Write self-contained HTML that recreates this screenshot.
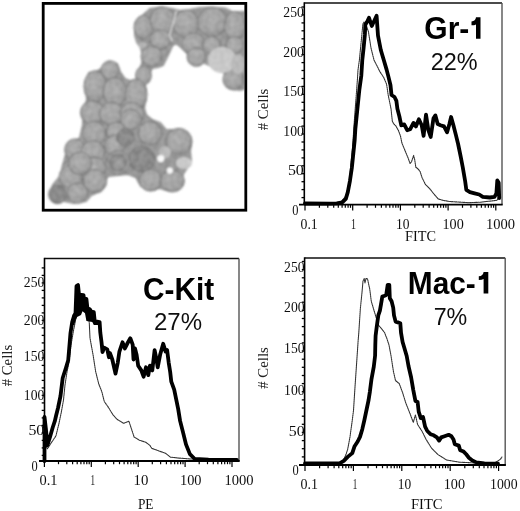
<!DOCTYPE html>
<html><head><meta charset="utf-8"><style>html,body{margin:0;padding:0;background:#fff;width:520px;height:511px;overflow:hidden}svg{display:block}</style></head><body>
<svg width="520" height="511" viewBox="0 0 520 511">
<rect width="520" height="511" fill="#fff"/>
<defs><filter id="gb" x="0" y="0" width="100%" height="100%" filterUnits="userSpaceOnUse"><feGaussianBlur stdDeviation="0.35"/></filter></defs>
<g filter="url(#gb)">
<rect width="520" height="511" fill="#fff"/>
<defs><radialGradient id="cg" cx="0.45" cy="0.42" r="0.62"><stop offset="0" stop-color="#acacac"/><stop offset="0.7" stop-color="#9d9d9d"/><stop offset="1" stop-color="#808080"/></radialGradient><radialGradient id="cd" cx="0.5" cy="0.5" r="0.6"><stop offset="0" stop-color="#8a8a8a"/><stop offset="1" stop-color="#7a7a7a"/></radialGradient><radialGradient id="cr" cx="0.5" cy="0.5" r="0.55"><stop offset="0" stop-color="#a8a8a8"/><stop offset="0.35" stop-color="#8d8d8d"/><stop offset="0.6" stop-color="#7e7e7e"/><stop offset="0.85" stop-color="#9a9a9a"/><stop offset="1" stop-color="#8a8a8a"/></radialGradient><filter id="bl" x="-10%" y="-10%" width="120%" height="120%"><feGaussianBlur in="SourceGraphic" stdDeviation="0.8" result="b"/><feTurbulence type="fractalNoise" baseFrequency="0.2" numOctaves="1" seed="3" result="n"/><feColorMatrix in="n" type="matrix" values="1.4 0 0 0 -0.1  1.4 0 0 0 -0.1  1.4 0 0 0 -0.1  0 0 0 0 0.09" result="na"/><feComposite in="na" in2="b" operator="in" result="nm"/><feMerge><feMergeNode in="b"/><feMergeNode in="nm"/></feMerge></filter><clipPath id="pc"><rect x="44" y="4.6" width="200.4" height="204.4"/></clipPath></defs>
<g clip-path="url(#pc)"><g filter="url(#bl)">
<path d="M110,62 L117,64 L120,72 L125,79 L130,81 L138,80 L145,84 L146,95 L144,108 L146,115 L152,120 L160,123 L166,130 L180,130 L188,134 L191,142 L190,152 L191,161 L187,168 L183,174 L182,184 L176,190 L166,190 L160,188 L150,189 L141,186 L136,177 L128,174 L118,175 L108,176 L104,183 L101,191 L91,195 L86,201 L74,203 L64,201 L53,199 L50,193 L53,185 L61,175 L63,165 L67,151 L72,143 L80,138 L83,125 L84,110 L87,100 L86,82 L89,73 L96,72 L102,68Z" fill="#939393" stroke="#939393" stroke-width="2" stroke-linejoin="round"/>
<path d="M136,27 L141,17 L150,9 L160,7.5 L172,9 L180,11 L190,10 L200,8 L212,7.5 L225,8.5 L232,12 L246,12 L246,88 L240,90 L233,89 L228,83 L225,74 L218,67 L212,66 L205,63 L196,60 L188,54 L182,48 L176,43 L172,46 L168,55 L163,65 L158,67 L152,68 L149,74 L148,80 L145,84 L140,83 L138,77 L139,70 L142,64 L143,56 L141,48 L137,42 L135,35Z" fill="#939393" stroke="#939393" stroke-width="2" stroke-linejoin="round"/>
<ellipse cx="143.3" cy="27.4" rx="9.3" ry="11.8" fill="url(#cg)" stroke="#727272" stroke-width="1.0"/>
<ellipse cx="162.5" cy="20.5" rx="12.3" ry="13.8" fill="url(#cg)" stroke="#727272" stroke-width="1.0"/>
<ellipse cx="160.4" cy="39.7" rx="10.3" ry="9.8" fill="url(#cg)" stroke="#727272" stroke-width="1.0"/>
<ellipse cx="151.5" cy="56.2" rx="10.4" ry="10.4" fill="url(#cg)" stroke="#727272" stroke-width="1.0"/>
<ellipse cx="143.5" cy="75.5" rx="7.8" ry="9.3" fill="url(#cg)" stroke="#727272" stroke-width="1.0"/>
<ellipse cx="186" cy="24" rx="12.8" ry="13.8" fill="url(#cg)" stroke="#727272" stroke-width="1.0"/>
<ellipse cx="212.2" cy="21.9" rx="14.5" ry="14.8" fill="url(#cg)" stroke="#727272" stroke-width="1.0"/>
<ellipse cx="234.8" cy="26" rx="10.4" ry="14.5" fill="url(#cg)" stroke="#727272" stroke-width="1.0"/>
<ellipse cx="193.7" cy="43.8" rx="11.8" ry="10.8" fill="url(#cg)" stroke="#727272" stroke-width="1.0"/>
<ellipse cx="211.5" cy="45.2" rx="8.8" ry="8.8" fill="url(#cg)" stroke="#727272" stroke-width="1.0"/>
<ellipse cx="196.4" cy="57" rx="9.3" ry="9.3" fill="url(#cg)" stroke="#727272" stroke-width="1.0"/>
<ellipse cx="234.8" cy="45.2" rx="8.8" ry="8.8" fill="url(#cg)" stroke="#727272" stroke-width="1.0"/>
<ellipse cx="233.4" cy="79.5" rx="10.4" ry="10.4" fill="url(#cg)" stroke="#727272" stroke-width="1.0"/>
<ellipse cx="110.1" cy="70.1" rx="9.0" ry="9.3" fill="url(#cg)" stroke="#727272" stroke-width="1.0"/>
<ellipse cx="95.1" cy="86.5" rx="11.100000000000001" ry="15.8" fill="url(#cg)" stroke="#727272" stroke-width="1.0"/>
<ellipse cx="114.9" cy="92" rx="11.8" ry="14.5" fill="url(#cg)" stroke="#727272" stroke-width="1.0"/>
<ellipse cx="136.2" cy="94.7" rx="10.8" ry="15.8" fill="url(#cg)" stroke="#727272" stroke-width="1.0"/>
<ellipse cx="92.3" cy="112.5" rx="11.8" ry="11.8" fill="url(#cg)" stroke="#727272" stroke-width="1.0"/>
<ellipse cx="111.5" cy="113.9" rx="11.8" ry="11.8" fill="url(#cg)" stroke="#727272" stroke-width="1.0"/>
<ellipse cx="132" cy="113.9" rx="11.8" ry="11.8" fill="url(#cg)" stroke="#727272" stroke-width="1.0"/>
<ellipse cx="131" cy="119.6" rx="10.4" ry="10.4" fill="url(#cg)" stroke="#727272" stroke-width="1.0"/>
<ellipse cx="94.2" cy="133.3" rx="11.8" ry="11.8" fill="url(#cg)" stroke="#727272" stroke-width="1.0"/>
<ellipse cx="116.2" cy="131.9" rx="9.8" ry="9.8" fill="url(#cg)" stroke="#727272" stroke-width="1.0"/>
<ellipse cx="75.1" cy="149.7" rx="10.4" ry="10.8" fill="url(#cg)" stroke="#727272" stroke-width="1.0"/>
<ellipse cx="114.8" cy="145.6" rx="10.4" ry="10.4" fill="url(#cg)" stroke="#727272" stroke-width="1.0"/>
<ellipse cx="92.9" cy="152.5" rx="11.8" ry="11.8" fill="url(#cg)" stroke="#727272" stroke-width="1.0"/>
<ellipse cx="72.3" cy="170.3" rx="10.4" ry="10.4" fill="url(#cg)" stroke="#727272" stroke-width="1.0"/>
<ellipse cx="70.9" cy="176.9" rx="11.600000000000001" ry="11.600000000000001" fill="url(#cg)" stroke="#727272" stroke-width="1.0"/>
<ellipse cx="94.2" cy="168.9" rx="11.8" ry="11.8" fill="url(#cg)" stroke="#727272" stroke-width="1.0"/>
<ellipse cx="57.5" cy="194.4" rx="8.8" ry="9.3" fill="url(#cd)" stroke="#727272" stroke-width="1.0"/>
<ellipse cx="77.6" cy="193.1" rx="10.200000000000001" ry="10.200000000000001" fill="url(#cg)" stroke="#727272" stroke-width="1.0"/>
<ellipse cx="80.3" cy="163.5" rx="11.600000000000001" ry="11.600000000000001" fill="url(#cg)" stroke="#727272" stroke-width="1.0"/>
<ellipse cx="95.1" cy="181" rx="11.600000000000001" ry="11.600000000000001" fill="url(#cg)" stroke="#727272" stroke-width="1.0"/>
<ellipse cx="150.1" cy="133.3" rx="11.8" ry="11.8" fill="url(#cg)" stroke="#727272" stroke-width="1.0"/>
<ellipse cx="178.9" cy="141.5" rx="13.100000000000001" ry="13.100000000000001" fill="url(#cg)" stroke="#727272" stroke-width="1.0"/>
<ellipse cx="141.9" cy="159" rx="13.100000000000001" ry="13.100000000000001" fill="url(#cd)" stroke="#727272" stroke-width="1.0"/>
<ellipse cx="150.7" cy="180.3" rx="11.200000000000001" ry="10.8" fill="url(#cg)" stroke="#727272" stroke-width="1.0"/>
<ellipse cx="172.3" cy="181.1" rx="12.0" ry="10.8" fill="url(#cg)" stroke="#727272" stroke-width="1.0"/>
<ellipse cx="125.5" cy="137.4" rx="8.8" ry="8.8" fill="url(#cd)" stroke="#727272" stroke-width="1.0"/>
<ellipse cx="118" cy="162.5" rx="12.0" ry="12.0" fill="url(#cr)" stroke="#727272" stroke-width="1.0"/>
<ellipse cx="222" cy="60" rx="14" ry="13" fill="#c9c9c9"/>
<ellipse cx="238" cy="64" rx="7" ry="10" fill="#b9b9b9"/>
<ellipse cx="142.6" cy="45.2" rx="4" ry="3" fill="#b5b5b5"/>
<ellipse cx="165" cy="152" rx="6" ry="6" fill="#b9b9b9"/>
<ellipse cx="184" cy="163" rx="8" ry="6" fill="#cacaca"/>
<ellipse cx="160.7" cy="158.6" rx="3.6" ry="3.6" fill="#fdfdfd"/>
<ellipse cx="169.8" cy="170.6" rx="3.1" ry="3.1" fill="#fdfdfd"/>
<path d="M176.4,11 L173,24 L169.5,35 L172,41" fill="none" stroke="#eee" stroke-width="1.1"/>
</g></g>
<rect x="43.2" y="3.4" width="202.6" height="206.8" fill="none" stroke="#000" stroke-width="2.8"/>
<line x1="301.5" y1="197.6" x2="304.3" y2="197.6" stroke="#000" stroke-width="1.3"/>
<line x1="301.5" y1="189.6" x2="304.3" y2="189.6" stroke="#000" stroke-width="1.3"/>
<line x1="301.5" y1="181.7" x2="304.3" y2="181.7" stroke="#000" stroke-width="1.3"/>
<line x1="301.5" y1="173.7" x2="304.3" y2="173.7" stroke="#000" stroke-width="1.3"/>
<line x1="301.5" y1="165.8" x2="304.3" y2="165.8" stroke="#000" stroke-width="1.3"/>
<line x1="301.5" y1="157.9" x2="304.3" y2="157.9" stroke="#000" stroke-width="1.3"/>
<line x1="301.5" y1="149.9" x2="304.3" y2="149.9" stroke="#000" stroke-width="1.3"/>
<line x1="301.5" y1="142.0" x2="304.3" y2="142.0" stroke="#000" stroke-width="1.3"/>
<line x1="301.5" y1="134.0" x2="304.3" y2="134.0" stroke="#000" stroke-width="1.3"/>
<line x1="301.5" y1="126.1" x2="304.3" y2="126.1" stroke="#000" stroke-width="1.3"/>
<line x1="301.5" y1="118.2" x2="304.3" y2="118.2" stroke="#000" stroke-width="1.3"/>
<line x1="301.5" y1="110.2" x2="304.3" y2="110.2" stroke="#000" stroke-width="1.3"/>
<line x1="301.5" y1="102.3" x2="304.3" y2="102.3" stroke="#000" stroke-width="1.3"/>
<line x1="301.5" y1="94.3" x2="304.3" y2="94.3" stroke="#000" stroke-width="1.3"/>
<line x1="301.5" y1="86.4" x2="304.3" y2="86.4" stroke="#000" stroke-width="1.3"/>
<line x1="301.5" y1="78.5" x2="304.3" y2="78.5" stroke="#000" stroke-width="1.3"/>
<line x1="301.5" y1="70.5" x2="304.3" y2="70.5" stroke="#000" stroke-width="1.3"/>
<line x1="301.5" y1="62.6" x2="304.3" y2="62.6" stroke="#000" stroke-width="1.3"/>
<line x1="301.5" y1="54.6" x2="304.3" y2="54.6" stroke="#000" stroke-width="1.3"/>
<line x1="301.5" y1="46.7" x2="304.3" y2="46.7" stroke="#000" stroke-width="1.3"/>
<line x1="301.5" y1="38.8" x2="304.3" y2="38.8" stroke="#000" stroke-width="1.3"/>
<line x1="301.5" y1="30.8" x2="304.3" y2="30.8" stroke="#000" stroke-width="1.3"/>
<line x1="301.5" y1="22.9" x2="304.3" y2="22.9" stroke="#000" stroke-width="1.3"/>
<line x1="301.5" y1="14.9" x2="304.3" y2="14.9" stroke="#000" stroke-width="1.3"/>
<line x1="301.5" y1="7.0" x2="304.3" y2="7.0" stroke="#000" stroke-width="1.3"/>
<line x1="305.0" y1="204.6" x2="305.0" y2="210.6" stroke="#000" stroke-width="1.2"/>
<line x1="319.4" y1="204.6" x2="319.4" y2="207.79999999999998" stroke="#000" stroke-width="1.2"/>
<line x1="327.8" y1="204.6" x2="327.8" y2="207.79999999999998" stroke="#000" stroke-width="1.2"/>
<line x1="333.7" y1="204.6" x2="333.7" y2="207.79999999999998" stroke="#000" stroke-width="1.2"/>
<line x1="338.3" y1="204.6" x2="338.3" y2="207.79999999999998" stroke="#000" stroke-width="1.2"/>
<line x1="342.1" y1="204.6" x2="342.1" y2="207.79999999999998" stroke="#000" stroke-width="1.2"/>
<line x1="345.3" y1="204.6" x2="345.3" y2="207.79999999999998" stroke="#000" stroke-width="1.2"/>
<line x1="348.1" y1="204.6" x2="348.1" y2="207.79999999999998" stroke="#000" stroke-width="1.2"/>
<line x1="350.5" y1="204.6" x2="350.5" y2="207.79999999999998" stroke="#000" stroke-width="1.2"/>
<line x1="352.7" y1="204.6" x2="352.7" y2="210.6" stroke="#000" stroke-width="1.2"/>
<line x1="367.1" y1="204.6" x2="367.1" y2="207.79999999999998" stroke="#000" stroke-width="1.2"/>
<line x1="375.5" y1="204.6" x2="375.5" y2="207.79999999999998" stroke="#000" stroke-width="1.2"/>
<line x1="381.4" y1="204.6" x2="381.4" y2="207.79999999999998" stroke="#000" stroke-width="1.2"/>
<line x1="386.0" y1="204.6" x2="386.0" y2="207.79999999999998" stroke="#000" stroke-width="1.2"/>
<line x1="389.8" y1="204.6" x2="389.8" y2="207.79999999999998" stroke="#000" stroke-width="1.2"/>
<line x1="393.0" y1="204.6" x2="393.0" y2="207.79999999999998" stroke="#000" stroke-width="1.2"/>
<line x1="395.8" y1="204.6" x2="395.8" y2="207.79999999999998" stroke="#000" stroke-width="1.2"/>
<line x1="398.2" y1="204.6" x2="398.2" y2="207.79999999999998" stroke="#000" stroke-width="1.2"/>
<line x1="400.4" y1="204.6" x2="400.4" y2="210.6" stroke="#000" stroke-width="1.2"/>
<line x1="414.8" y1="204.6" x2="414.8" y2="207.79999999999998" stroke="#000" stroke-width="1.2"/>
<line x1="423.2" y1="204.6" x2="423.2" y2="207.79999999999998" stroke="#000" stroke-width="1.2"/>
<line x1="429.1" y1="204.6" x2="429.1" y2="207.79999999999998" stroke="#000" stroke-width="1.2"/>
<line x1="433.7" y1="204.6" x2="433.7" y2="207.79999999999998" stroke="#000" stroke-width="1.2"/>
<line x1="437.5" y1="204.6" x2="437.5" y2="207.79999999999998" stroke="#000" stroke-width="1.2"/>
<line x1="440.7" y1="204.6" x2="440.7" y2="207.79999999999998" stroke="#000" stroke-width="1.2"/>
<line x1="443.5" y1="204.6" x2="443.5" y2="207.79999999999998" stroke="#000" stroke-width="1.2"/>
<line x1="445.9" y1="204.6" x2="445.9" y2="207.79999999999998" stroke="#000" stroke-width="1.2"/>
<line x1="448.1" y1="204.6" x2="448.1" y2="210.6" stroke="#000" stroke-width="1.2"/>
<line x1="462.5" y1="204.6" x2="462.5" y2="207.79999999999998" stroke="#000" stroke-width="1.2"/>
<line x1="470.9" y1="204.6" x2="470.9" y2="207.79999999999998" stroke="#000" stroke-width="1.2"/>
<line x1="476.8" y1="204.6" x2="476.8" y2="207.79999999999998" stroke="#000" stroke-width="1.2"/>
<line x1="481.4" y1="204.6" x2="481.4" y2="207.79999999999998" stroke="#000" stroke-width="1.2"/>
<line x1="485.2" y1="204.6" x2="485.2" y2="207.79999999999998" stroke="#000" stroke-width="1.2"/>
<line x1="488.4" y1="204.6" x2="488.4" y2="207.79999999999998" stroke="#000" stroke-width="1.2"/>
<line x1="491.2" y1="204.6" x2="491.2" y2="207.79999999999998" stroke="#000" stroke-width="1.2"/>
<line x1="493.6" y1="204.6" x2="493.6" y2="207.79999999999998" stroke="#000" stroke-width="1.2"/>
<line x1="495.8" y1="204.6" x2="495.8" y2="210.6" stroke="#000" stroke-width="1.2"/>
<line x1="304.3" y1="3" x2="502" y2="3" stroke="#111" stroke-width="1.5"/>
<line x1="502" y1="3" x2="502" y2="204.6" stroke="#555" stroke-width="1.4"/>
<line x1="304.3" y1="2.3" x2="304.3" y2="204.6" stroke="#000" stroke-width="1.6"/>
<line x1="299" y1="204.6" x2="502.7" y2="204.6" stroke="#000" stroke-width="1.9"/>
<path d="M340.0,203.0 L346.0,196.0 L349.0,184.0 L352.5,148.0 L354.5,118.7 L357.4,79.6 L358.0,70.0 L359.4,60.0 L362.9,24.0 L364.0,22.0 L366.0,25.0 L368.4,31.5 L371.0,48.0 L374.0,60.0 L375.9,63.7 L379.8,71.5 L383.7,77.4 L386.6,84.2 L388.2,95.0 L391.0,108.7 L392.3,121.0 L393.7,123.8 L395.8,125.8 L398.5,130.6 L400.5,136.1 L401.9,143.0 L404.7,149.8 L408.1,158.0 L410.1,163.5 L411.5,161.8 L413.6,155.4 L414.7,159.7 L415.8,167.2 L417.9,168.8 L420.1,171.5 L422.2,178.0 L425.4,184.4 L429.7,188.7 L434.0,194.1 L438.3,199.0 L443.7,200.5 L449.9,201.5 L468.7,202.7 L480.4,202.2 L496.9,200.3 L499.2,196.8" fill="none" stroke="#333" stroke-width="1.1" stroke-linejoin="round" stroke-linecap="round" stroke-dasharray="1.2 0.8"/>
<path d="M305.0,203.5 L330.0,203.6 L336.8,203.3 L342.3,202.3 L345.8,198.9 L347.8,192.1 L349.9,181.1 L351.9,167.4 L353.3,153.7 L354.7,140.0 L355.4,128.5 L357.4,108.9 L359.4,89.4 L361.3,75.7 L362.3,60.0 L363.6,48.0 L364.9,34.2 L365.3,24.7 L367.0,22.0 L369.0,17.8 L371.8,26.0 L376.6,15.8 L378.0,35.6 L380.8,50.0 L383.7,59.8 L386.6,69.6 L388.6,77.4 L390.5,85.2 L391.5,95.0 L394.5,97.0 L396.4,100.9 L397.4,108.7 L399.4,116.5 L401.3,125.3 L404.2,124.4 L407.2,130.2 L410.1,129.3 L413.5,122.9 L415.9,126.4 L418.9,119.3 L421.7,125.2 L423.6,135.8 L426.0,114.6 L428.3,129.9 L430.7,137.0 L433.5,118.2 L435.4,115.4 L437.7,124.0 L440.5,125.2 L444.0,126.4 L447.1,132.3 L449.4,124.0 L451.1,117.0 L453.4,125.2 L455.8,134.6 L458.1,144.0 L460.5,155.7 L462.8,167.5 L465.2,181.5 L466.3,189.8 L469.9,192.1 L474.6,193.3 L479.2,194.5 L482.8,196.8 L489.8,197.5 L494.5,196.8 L496.4,193.3 L497.3,180.4 L498.7,182.7 L499.2,198.0" fill="none" stroke="#000" stroke-width="3.8" stroke-linejoin="round" stroke-linecap="round" />
<line x1="41.7" y1="455.4" x2="44.5" y2="455.4" stroke="#000" stroke-width="1.3"/>
<line x1="41.7" y1="447.9" x2="44.5" y2="447.9" stroke="#000" stroke-width="1.3"/>
<line x1="41.7" y1="440.4" x2="44.5" y2="440.4" stroke="#000" stroke-width="1.3"/>
<line x1="41.7" y1="432.9" x2="44.5" y2="432.9" stroke="#000" stroke-width="1.3"/>
<line x1="41.7" y1="425.4" x2="44.5" y2="425.4" stroke="#000" stroke-width="1.3"/>
<line x1="41.7" y1="417.9" x2="44.5" y2="417.9" stroke="#000" stroke-width="1.3"/>
<line x1="41.7" y1="410.4" x2="44.5" y2="410.4" stroke="#000" stroke-width="1.3"/>
<line x1="41.7" y1="402.9" x2="44.5" y2="402.9" stroke="#000" stroke-width="1.3"/>
<line x1="41.7" y1="395.4" x2="44.5" y2="395.4" stroke="#000" stroke-width="1.3"/>
<line x1="41.7" y1="387.9" x2="44.5" y2="387.9" stroke="#000" stroke-width="1.3"/>
<line x1="41.7" y1="380.4" x2="44.5" y2="380.4" stroke="#000" stroke-width="1.3"/>
<line x1="41.7" y1="372.9" x2="44.5" y2="372.9" stroke="#000" stroke-width="1.3"/>
<line x1="41.7" y1="365.4" x2="44.5" y2="365.4" stroke="#000" stroke-width="1.3"/>
<line x1="41.7" y1="357.9" x2="44.5" y2="357.9" stroke="#000" stroke-width="1.3"/>
<line x1="41.7" y1="350.4" x2="44.5" y2="350.4" stroke="#000" stroke-width="1.3"/>
<line x1="41.7" y1="342.9" x2="44.5" y2="342.9" stroke="#000" stroke-width="1.3"/>
<line x1="41.7" y1="335.4" x2="44.5" y2="335.4" stroke="#000" stroke-width="1.3"/>
<line x1="41.7" y1="327.9" x2="44.5" y2="327.9" stroke="#000" stroke-width="1.3"/>
<line x1="41.7" y1="320.4" x2="44.5" y2="320.4" stroke="#000" stroke-width="1.3"/>
<line x1="41.7" y1="312.9" x2="44.5" y2="312.9" stroke="#000" stroke-width="1.3"/>
<line x1="41.7" y1="305.4" x2="44.5" y2="305.4" stroke="#000" stroke-width="1.3"/>
<line x1="41.7" y1="297.9" x2="44.5" y2="297.9" stroke="#000" stroke-width="1.3"/>
<line x1="41.7" y1="290.4" x2="44.5" y2="290.4" stroke="#000" stroke-width="1.3"/>
<line x1="41.7" y1="282.9" x2="44.5" y2="282.9" stroke="#000" stroke-width="1.3"/>
<line x1="41.7" y1="275.4" x2="44.5" y2="275.4" stroke="#000" stroke-width="1.3"/>
<line x1="41.7" y1="267.9" x2="44.5" y2="267.9" stroke="#000" stroke-width="1.3"/>
<line x1="44.4" y1="461" x2="44.4" y2="467" stroke="#000" stroke-width="1.2"/>
<line x1="58.5" y1="461" x2="58.5" y2="464.2" stroke="#000" stroke-width="1.2"/>
<line x1="66.8" y1="461" x2="66.8" y2="464.2" stroke="#000" stroke-width="1.2"/>
<line x1="72.6" y1="461" x2="72.6" y2="464.2" stroke="#000" stroke-width="1.2"/>
<line x1="77.2" y1="461" x2="77.2" y2="464.2" stroke="#000" stroke-width="1.2"/>
<line x1="80.9" y1="461" x2="80.9" y2="464.2" stroke="#000" stroke-width="1.2"/>
<line x1="84.0" y1="461" x2="84.0" y2="464.2" stroke="#000" stroke-width="1.2"/>
<line x1="86.8" y1="461" x2="86.8" y2="464.2" stroke="#000" stroke-width="1.2"/>
<line x1="89.2" y1="461" x2="89.2" y2="464.2" stroke="#000" stroke-width="1.2"/>
<line x1="91.3" y1="461" x2="91.3" y2="467" stroke="#000" stroke-width="1.2"/>
<line x1="105.4" y1="461" x2="105.4" y2="464.2" stroke="#000" stroke-width="1.2"/>
<line x1="113.7" y1="461" x2="113.7" y2="464.2" stroke="#000" stroke-width="1.2"/>
<line x1="119.5" y1="461" x2="119.5" y2="464.2" stroke="#000" stroke-width="1.2"/>
<line x1="124.1" y1="461" x2="124.1" y2="464.2" stroke="#000" stroke-width="1.2"/>
<line x1="127.8" y1="461" x2="127.8" y2="464.2" stroke="#000" stroke-width="1.2"/>
<line x1="130.9" y1="461" x2="130.9" y2="464.2" stroke="#000" stroke-width="1.2"/>
<line x1="133.7" y1="461" x2="133.7" y2="464.2" stroke="#000" stroke-width="1.2"/>
<line x1="136.1" y1="461" x2="136.1" y2="464.2" stroke="#000" stroke-width="1.2"/>
<line x1="138.2" y1="461" x2="138.2" y2="467" stroke="#000" stroke-width="1.2"/>
<line x1="152.3" y1="461" x2="152.3" y2="464.2" stroke="#000" stroke-width="1.2"/>
<line x1="160.6" y1="461" x2="160.6" y2="464.2" stroke="#000" stroke-width="1.2"/>
<line x1="166.4" y1="461" x2="166.4" y2="464.2" stroke="#000" stroke-width="1.2"/>
<line x1="171.0" y1="461" x2="171.0" y2="464.2" stroke="#000" stroke-width="1.2"/>
<line x1="174.7" y1="461" x2="174.7" y2="464.2" stroke="#000" stroke-width="1.2"/>
<line x1="177.8" y1="461" x2="177.8" y2="464.2" stroke="#000" stroke-width="1.2"/>
<line x1="180.6" y1="461" x2="180.6" y2="464.2" stroke="#000" stroke-width="1.2"/>
<line x1="183.0" y1="461" x2="183.0" y2="464.2" stroke="#000" stroke-width="1.2"/>
<line x1="185.1" y1="461" x2="185.1" y2="467" stroke="#000" stroke-width="1.2"/>
<line x1="199.2" y1="461" x2="199.2" y2="464.2" stroke="#000" stroke-width="1.2"/>
<line x1="207.5" y1="461" x2="207.5" y2="464.2" stroke="#000" stroke-width="1.2"/>
<line x1="213.3" y1="461" x2="213.3" y2="464.2" stroke="#000" stroke-width="1.2"/>
<line x1="217.9" y1="461" x2="217.9" y2="464.2" stroke="#000" stroke-width="1.2"/>
<line x1="221.6" y1="461" x2="221.6" y2="464.2" stroke="#000" stroke-width="1.2"/>
<line x1="224.7" y1="461" x2="224.7" y2="464.2" stroke="#000" stroke-width="1.2"/>
<line x1="227.5" y1="461" x2="227.5" y2="464.2" stroke="#000" stroke-width="1.2"/>
<line x1="229.9" y1="461" x2="229.9" y2="464.2" stroke="#000" stroke-width="1.2"/>
<line x1="232.0" y1="461" x2="232.0" y2="467" stroke="#000" stroke-width="1.2"/>
<line x1="44.5" y1="258.5" x2="239" y2="258.5" stroke="#111" stroke-width="1.5"/>
<line x1="239" y1="258.5" x2="239" y2="461" stroke="#555" stroke-width="1.4"/>
<line x1="44.5" y1="257.8" x2="44.5" y2="461" stroke="#000" stroke-width="1.6"/>
<line x1="39" y1="461" x2="239.7" y2="461" stroke="#000" stroke-width="1.9"/>
<path d="M44.5,443.0 L47.4,448.7 L51.6,442.3 L55.9,436.0 L59.0,423.3 L61.2,412.7 L63.5,400.0 L65.0,385.0 L67.0,372.0 L69.0,362.0 L71.0,345.0 L73.6,330.0 L76.0,318.0 L79.0,305.0 L82.0,300.0 L85.0,302.0 L87.5,310.0 L89.3,323.2 L90.0,338.0 L93.2,355.6 L95.6,371.3 L98.7,383.8 L101.8,391.6 L104.3,401.5 L107.7,406.3 L113.0,414.8 L116.7,419.0 L118.3,420.1 L123.6,423.3 L128.9,421.2 L131.0,427.5 L134.1,437.0 L139.4,440.2 L145.8,442.3 L150.0,445.5 L151.7,448.3 L159.6,451.2 L165.4,453.2 L170.3,457.1 L179.1,458.1 L190.9,459.0 L236.0,459.5" fill="none" stroke="#333" stroke-width="1.1" stroke-linejoin="round" stroke-linecap="round" stroke-dasharray="1.2 0.8"/>
<path d="M44.5,461.0 L44.5,417.0 L46.0,430.0 L47.5,445.0 L50.0,437.0 L52.7,427.5 L54.8,421.2 L56.0,416.0 L58.0,408.0 L60.5,396.0 L62.7,378.0 L65.8,368.2 L68.2,360.3 L69.5,345.0 L70.5,333.0 L72.2,322.0 L74.0,316.0 L75.5,313.0 L76.0,300.0 L76.5,286.0 L78.0,285.0 L79.0,294.6 L83.5,295.1 L84.0,299.0 L86.4,299.0 L87.4,308.3 L89.8,309.2 L91.3,311.7 L93.8,312.2 L94.7,321.0 L97.2,321.5 L99.6,322.0 L100.3,332.6 L101.5,342.0 L102.5,352.0 L104.2,347.8 L107.3,349.4 L108.9,357.2 L110.0,353.2 L112.3,359.5 L115.5,373.6 L117.8,362.6 L119.4,351.6 L122.5,342.3 L124.9,348.5 L127.2,343.8 L130.3,338.3 L132.7,344.6 L133.5,359.5 L135.0,348.5 L136.6,354.8 L138.2,365.7 L141.3,370.4 L143.6,376.7 L146.0,367.3 L148.3,375.1 L149.9,365.7 L152.3,370.4 L154.6,350.1 L156.2,357.9 L157.7,367.3 L160.1,354.8 L163.2,343.8 L165.6,351.6 L167.1,350.1 L168.7,362.6 L170.2,372.0 L171.3,381.7 L174.2,389.6 L176.2,399.4 L178.2,409.1 L180.1,420.9 L183.1,432.6 L186.0,444.4 L189.9,454.1 L194.8,459.0 L208.5,459.6 L236.9,460.0" fill="none" stroke="#000" stroke-width="3.8" stroke-linejoin="round" stroke-linecap="round" />
<path d="M71.7,325.0 L72.7,314.6 L75.2,313.7 L75.7,284.8 L78.6,284.3 L79.1,294.6 L83.5,295.1 L84.0,299.0 L86.4,299.0 L87.4,308.3 L89.8,309.2 L91.3,311.7 L93.8,312.2 L94.7,321.0 L97.2,321.5 L99.6,322.0 L100.1,325.0 L93.8,325.0 L92.3,322.0 L86.4,321.0 L85.0,313.2 L82.5,311.2 L81.0,315.1 L77.1,317.1 L75.7,320.0 L74.2,325.0Z" fill="#000"/>
<line x1="301.8" y1="456.9" x2="304.6" y2="456.9" stroke="#000" stroke-width="1.3"/>
<line x1="301.8" y1="448.7" x2="304.6" y2="448.7" stroke="#000" stroke-width="1.3"/>
<line x1="301.8" y1="440.6" x2="304.6" y2="440.6" stroke="#000" stroke-width="1.3"/>
<line x1="301.8" y1="432.4" x2="304.6" y2="432.4" stroke="#000" stroke-width="1.3"/>
<line x1="301.8" y1="424.3" x2="304.6" y2="424.3" stroke="#000" stroke-width="1.3"/>
<line x1="301.8" y1="416.2" x2="304.6" y2="416.2" stroke="#000" stroke-width="1.3"/>
<line x1="301.8" y1="408.0" x2="304.6" y2="408.0" stroke="#000" stroke-width="1.3"/>
<line x1="301.8" y1="399.9" x2="304.6" y2="399.9" stroke="#000" stroke-width="1.3"/>
<line x1="301.8" y1="391.7" x2="304.6" y2="391.7" stroke="#000" stroke-width="1.3"/>
<line x1="301.8" y1="383.6" x2="304.6" y2="383.6" stroke="#000" stroke-width="1.3"/>
<line x1="301.8" y1="375.5" x2="304.6" y2="375.5" stroke="#000" stroke-width="1.3"/>
<line x1="301.8" y1="367.3" x2="304.6" y2="367.3" stroke="#000" stroke-width="1.3"/>
<line x1="301.8" y1="359.2" x2="304.6" y2="359.2" stroke="#000" stroke-width="1.3"/>
<line x1="301.8" y1="351.0" x2="304.6" y2="351.0" stroke="#000" stroke-width="1.3"/>
<line x1="301.8" y1="342.9" x2="304.6" y2="342.9" stroke="#000" stroke-width="1.3"/>
<line x1="301.8" y1="334.8" x2="304.6" y2="334.8" stroke="#000" stroke-width="1.3"/>
<line x1="301.8" y1="326.6" x2="304.6" y2="326.6" stroke="#000" stroke-width="1.3"/>
<line x1="301.8" y1="318.5" x2="304.6" y2="318.5" stroke="#000" stroke-width="1.3"/>
<line x1="301.8" y1="310.3" x2="304.6" y2="310.3" stroke="#000" stroke-width="1.3"/>
<line x1="301.8" y1="302.2" x2="304.6" y2="302.2" stroke="#000" stroke-width="1.3"/>
<line x1="301.8" y1="294.1" x2="304.6" y2="294.1" stroke="#000" stroke-width="1.3"/>
<line x1="301.8" y1="285.9" x2="304.6" y2="285.9" stroke="#000" stroke-width="1.3"/>
<line x1="301.8" y1="277.8" x2="304.6" y2="277.8" stroke="#000" stroke-width="1.3"/>
<line x1="301.8" y1="269.6" x2="304.6" y2="269.6" stroke="#000" stroke-width="1.3"/>
<line x1="301.8" y1="261.5" x2="304.6" y2="261.5" stroke="#000" stroke-width="1.3"/>
<line x1="305.0" y1="465" x2="305.0" y2="471" stroke="#000" stroke-width="1.2"/>
<line x1="319.6" y1="465" x2="319.6" y2="468.2" stroke="#000" stroke-width="1.2"/>
<line x1="328.1" y1="465" x2="328.1" y2="468.2" stroke="#000" stroke-width="1.2"/>
<line x1="334.1" y1="465" x2="334.1" y2="468.2" stroke="#000" stroke-width="1.2"/>
<line x1="338.8" y1="465" x2="338.8" y2="468.2" stroke="#000" stroke-width="1.2"/>
<line x1="342.7" y1="465" x2="342.7" y2="468.2" stroke="#000" stroke-width="1.2"/>
<line x1="345.9" y1="465" x2="345.9" y2="468.2" stroke="#000" stroke-width="1.2"/>
<line x1="348.7" y1="465" x2="348.7" y2="468.2" stroke="#000" stroke-width="1.2"/>
<line x1="351.2" y1="465" x2="351.2" y2="468.2" stroke="#000" stroke-width="1.2"/>
<line x1="353.4" y1="465" x2="353.4" y2="471" stroke="#000" stroke-width="1.2"/>
<line x1="368.0" y1="465" x2="368.0" y2="468.2" stroke="#000" stroke-width="1.2"/>
<line x1="376.5" y1="465" x2="376.5" y2="468.2" stroke="#000" stroke-width="1.2"/>
<line x1="382.5" y1="465" x2="382.5" y2="468.2" stroke="#000" stroke-width="1.2"/>
<line x1="387.2" y1="465" x2="387.2" y2="468.2" stroke="#000" stroke-width="1.2"/>
<line x1="391.1" y1="465" x2="391.1" y2="468.2" stroke="#000" stroke-width="1.2"/>
<line x1="394.3" y1="465" x2="394.3" y2="468.2" stroke="#000" stroke-width="1.2"/>
<line x1="397.1" y1="465" x2="397.1" y2="468.2" stroke="#000" stroke-width="1.2"/>
<line x1="399.6" y1="465" x2="399.6" y2="468.2" stroke="#000" stroke-width="1.2"/>
<line x1="401.8" y1="465" x2="401.8" y2="471" stroke="#000" stroke-width="1.2"/>
<line x1="416.4" y1="465" x2="416.4" y2="468.2" stroke="#000" stroke-width="1.2"/>
<line x1="424.9" y1="465" x2="424.9" y2="468.2" stroke="#000" stroke-width="1.2"/>
<line x1="430.9" y1="465" x2="430.9" y2="468.2" stroke="#000" stroke-width="1.2"/>
<line x1="435.6" y1="465" x2="435.6" y2="468.2" stroke="#000" stroke-width="1.2"/>
<line x1="439.5" y1="465" x2="439.5" y2="468.2" stroke="#000" stroke-width="1.2"/>
<line x1="442.7" y1="465" x2="442.7" y2="468.2" stroke="#000" stroke-width="1.2"/>
<line x1="445.5" y1="465" x2="445.5" y2="468.2" stroke="#000" stroke-width="1.2"/>
<line x1="448.0" y1="465" x2="448.0" y2="468.2" stroke="#000" stroke-width="1.2"/>
<line x1="450.2" y1="465" x2="450.2" y2="471" stroke="#000" stroke-width="1.2"/>
<line x1="464.8" y1="465" x2="464.8" y2="468.2" stroke="#000" stroke-width="1.2"/>
<line x1="473.3" y1="465" x2="473.3" y2="468.2" stroke="#000" stroke-width="1.2"/>
<line x1="479.3" y1="465" x2="479.3" y2="468.2" stroke="#000" stroke-width="1.2"/>
<line x1="484.0" y1="465" x2="484.0" y2="468.2" stroke="#000" stroke-width="1.2"/>
<line x1="487.9" y1="465" x2="487.9" y2="468.2" stroke="#000" stroke-width="1.2"/>
<line x1="491.1" y1="465" x2="491.1" y2="468.2" stroke="#000" stroke-width="1.2"/>
<line x1="493.9" y1="465" x2="493.9" y2="468.2" stroke="#000" stroke-width="1.2"/>
<line x1="496.4" y1="465" x2="496.4" y2="468.2" stroke="#000" stroke-width="1.2"/>
<line x1="498.6" y1="465" x2="498.6" y2="471" stroke="#000" stroke-width="1.2"/>
<line x1="304.6" y1="258" x2="505.2" y2="258" stroke="#111" stroke-width="1.5"/>
<line x1="505.2" y1="258" x2="505.2" y2="465" stroke="#555" stroke-width="1.4"/>
<line x1="304.6" y1="257.3" x2="304.6" y2="465" stroke="#000" stroke-width="1.6"/>
<line x1="299" y1="465" x2="505.9" y2="465" stroke="#000" stroke-width="1.9"/>
<path d="M340.0,463.0 L343.0,461.5 L346.2,453.8 L347.7,449.2 L350.0,436.9 L352.3,420.0 L353.5,410.4 L355.0,387.0 L356.6,363.5 L358.2,340.0 L358.8,332.6 L360.3,309.1 L361.9,293.5 L363.0,281.0 L364.2,278.6 L365.0,283.0 L366.0,278.3 L367.6,279.0 L368.6,284.0 L369.7,288.8 L371.3,301.3 L373.6,309.1 L376.0,317.0 L378.3,324.8 L381.5,328.7 L384.6,332.6 L387.0,338.9 L389.0,345.0 L391.0,355.6 L393.4,371.3 L395.5,380.5 L399.3,383.7 L402.5,392.3 L405.8,403.0 L410.1,413.8 L413.3,422.4 L415.4,414.8 L417.6,424.5 L421.9,431.0 L426.2,439.6 L431.6,448.2 L438.0,454.6 L446.6,460.0 L459.5,462.2 L472.4,462.8 L480.4,463.4 L493.8,463.1 L497.9,461.0 L500.6,459.0 L501.9,457.0" fill="none" stroke="#333" stroke-width="1.1" stroke-linejoin="round" stroke-linecap="round" stroke-dasharray="1.2 0.8"/>
<path d="M305.0,463.4 L320.0,463.4 L340.0,463.1 L343.8,460.8 L347.7,456.9 L352.3,453.1 L354.6,446.2 L357.7,441.5 L360.0,436.9 L362.3,429.2 L364.4,420.0 L366.6,409.5 L368.6,400.0 L369.9,391.6 L371.5,379.1 L373.8,366.6 L375.1,355.6 L375.3,345.0 L375.6,335.7 L376.8,326.3 L378.3,315.4 L379.9,310.7 L381.0,304.4 L382.3,296.6 L384.6,295.8 L386.2,295.0 L387.7,284.9 L389.3,284.9 L389.8,298.2 L391.6,301.3 L393.2,307.6 L394.0,315.4 L395.6,321.6 L397.9,322.4 L400.3,323.2 L401.0,332.6 L402.6,342.0 L404.3,347.8 L406.7,356.0 L408.5,366.0 L411.1,377.2 L413.3,390.1 L415.4,400.9 L417.6,401.9 L418.7,411.6 L420.8,418.1 L423.0,417.0 L425.1,426.7 L427.3,431.0 L430.5,434.2 L433.7,435.3 L436.9,437.4 L439.1,440.6 L441.2,437.4 L444.5,436.3 L448.7,434.8 L451.4,436.2 L453.5,439.5 L454.8,444.2 L458.8,445.6 L460.2,450.3 L463.6,451.6 L466.2,454.3 L468.9,457.7 L472.3,460.4 L476.3,462.4 L484.4,463.3 L492.5,463.7 L498.0,463.7" fill="none" stroke="#000" stroke-width="3.8" stroke-linejoin="round" stroke-linecap="round" />
<text x="303.8" y="16.8" font-family="'Liberation Serif', serif" font-size="14.5" font-weight="normal" text-anchor="end" fill="#111" textLength="20.5" lengthAdjust="spacingAndGlyphs" >250</text>
<text x="303.8" y="56.6" font-family="'Liberation Serif', serif" font-size="14.5" font-weight="normal" text-anchor="end" fill="#111" textLength="20.5" lengthAdjust="spacingAndGlyphs" >200</text>
<text x="303.8" y="95.8" font-family="'Liberation Serif', serif" font-size="14.5" font-weight="normal" text-anchor="end" fill="#111" textLength="20.5" lengthAdjust="spacingAndGlyphs" >150</text>
<text x="303.8" y="136.2" font-family="'Liberation Serif', serif" font-size="14.5" font-weight="normal" text-anchor="end" fill="#111" textLength="20.5" lengthAdjust="spacingAndGlyphs" >100</text>
<text x="303.8" y="175.2" font-family="'Liberation Serif', serif" font-size="14.5" font-weight="normal" text-anchor="end" fill="#111" textLength="15.9" lengthAdjust="spacingAndGlyphs" >50</text>
<text x="298.5" y="214.7" font-family="'Liberation Serif', serif" font-size="14.5" font-weight="normal" text-anchor="end" fill="#111" textLength="6.2" lengthAdjust="spacingAndGlyphs" >0</text>
<text transform="translate(268,109.5) rotate(-90)" x="0" y="0" font-family="'Liberation Serif', serif" font-size="14.5" text-anchor="middle" fill="#222" textLength="41.5" lengthAdjust="spacingAndGlyphs"># Cells</text>
<text x="300.5" y="229.1" font-family="'Liberation Serif', serif" font-size="14.5" font-weight="normal" text-anchor="start" fill="#111" textLength="17.2" lengthAdjust="spacingAndGlyphs" >0.1</text>
<text x="351" y="229.1" font-family="'Liberation Serif', serif" font-size="14.5" font-weight="normal" text-anchor="start" fill="#111" textLength="5" lengthAdjust="spacingAndGlyphs" >1</text>
<text x="396" y="229.1" font-family="'Liberation Serif', serif" font-size="14.5" font-weight="normal" text-anchor="start" fill="#111" textLength="13.5" lengthAdjust="spacingAndGlyphs" >10</text>
<text x="442.5" y="229.1" font-family="'Liberation Serif', serif" font-size="14.5" font-weight="normal" text-anchor="start" fill="#111" textLength="21.2" lengthAdjust="spacingAndGlyphs" >100</text>
<text x="486" y="229.1" font-family="'Liberation Serif', serif" font-size="14.5" font-weight="normal" text-anchor="start" fill="#111" textLength="29" lengthAdjust="spacingAndGlyphs" >1000</text>
<text x="405" y="241" font-family="'Liberation Serif', serif" font-size="14.5" font-weight="normal" text-anchor="start" fill="#111" textLength="31" lengthAdjust="spacingAndGlyphs" >FITC</text>
<text x="424.3" y="38.7" font-family="'Liberation Sans', sans-serif" font-size="31.5" font-weight="bold" text-anchor="start" fill="#000" textLength="45.0" lengthAdjust="spacingAndGlyphs" >Gr-</text>
<path d="M476.0,17.3 L480.5,17.3 L480.5,38.7 L476.0,38.7 L476.0,24.4 Q474.5,25.3 471.5,25.3 L471.5,21.5 Q475.5,21.1 476.0,17.3 Z" fill="#000"/>
<text x="430.8" y="70" font-family="'Liberation Sans', sans-serif" font-size="23.3" font-weight="normal" text-anchor="start" fill="#111" textLength="46.9" lengthAdjust="spacingAndGlyphs" >22%</text>
<text x="44.3" y="287" font-family="'Liberation Serif', serif" font-size="14.5" font-weight="normal" text-anchor="end" fill="#111" textLength="20.5" lengthAdjust="spacingAndGlyphs" >250</text>
<text x="44.3" y="324.6" font-family="'Liberation Serif', serif" font-size="14.5" font-weight="normal" text-anchor="end" fill="#111" textLength="20.5" lengthAdjust="spacingAndGlyphs" >200</text>
<text x="44.3" y="361.3" font-family="'Liberation Serif', serif" font-size="14.5" font-weight="normal" text-anchor="end" fill="#111" textLength="20.5" lengthAdjust="spacingAndGlyphs" >150</text>
<text x="44.3" y="399.6" font-family="'Liberation Serif', serif" font-size="14.5" font-weight="normal" text-anchor="end" fill="#111" textLength="20.5" lengthAdjust="spacingAndGlyphs" >100</text>
<text x="44.3" y="435.4" font-family="'Liberation Serif', serif" font-size="14.5" font-weight="normal" text-anchor="end" fill="#111" textLength="15.9" lengthAdjust="spacingAndGlyphs" >50</text>
<text x="37.8" y="470.8" font-family="'Liberation Serif', serif" font-size="14.5" font-weight="normal" text-anchor="end" fill="#111" textLength="6.2" lengthAdjust="spacingAndGlyphs" >0</text>
<text transform="translate(11.7,365.6) rotate(-90)" x="0" y="0" font-family="'Liberation Serif', serif" font-size="14.5" text-anchor="middle" fill="#222" textLength="41.5" lengthAdjust="spacingAndGlyphs"># Cells</text>
<text x="39.5" y="485.3" font-family="'Liberation Serif', serif" font-size="14.5" font-weight="normal" text-anchor="start" fill="#111" textLength="18" lengthAdjust="spacingAndGlyphs" >0.1</text>
<text x="90.5" y="485.3" font-family="'Liberation Serif', serif" font-size="14.5" font-weight="normal" text-anchor="start" fill="#111" textLength="4.5" lengthAdjust="spacingAndGlyphs" >1</text>
<text x="133.6" y="485.3" font-family="'Liberation Serif', serif" font-size="14.5" font-weight="normal" text-anchor="start" fill="#111" textLength="14.8" lengthAdjust="spacingAndGlyphs" >10</text>
<text x="180" y="485.3" font-family="'Liberation Serif', serif" font-size="14.5" font-weight="normal" text-anchor="start" fill="#111" textLength="21.5" lengthAdjust="spacingAndGlyphs" >100</text>
<text x="224.5" y="485.3" font-family="'Liberation Serif', serif" font-size="14.5" font-weight="normal" text-anchor="start" fill="#111" textLength="29.1" lengthAdjust="spacingAndGlyphs" >1000</text>
<text x="137.9" y="509" font-family="'Liberation Serif', serif" font-size="14.5" font-weight="normal" text-anchor="start" fill="#111" textLength="15.6" lengthAdjust="spacingAndGlyphs" >PE</text>
<text x="143.0" y="300.4" font-family="'Liberation Sans', sans-serif" font-size="30.5" font-weight="bold" text-anchor="start" fill="#000" textLength="71.2" lengthAdjust="spacingAndGlyphs" >C-Kit</text>
<text x="154" y="330" font-family="'Liberation Sans', sans-serif" font-size="23.3" font-weight="normal" text-anchor="start" fill="#111" textLength="48.1" lengthAdjust="spacingAndGlyphs" >27%</text>
<text x="304.6" y="271.6" font-family="'Liberation Serif', serif" font-size="14.5" font-weight="normal" text-anchor="end" fill="#111" textLength="20.5" lengthAdjust="spacingAndGlyphs" >250</text>
<text x="304.6" y="312.1" font-family="'Liberation Serif', serif" font-size="14.5" font-weight="normal" text-anchor="end" fill="#111" textLength="20.5" lengthAdjust="spacingAndGlyphs" >200</text>
<text x="304.6" y="353.2" font-family="'Liberation Serif', serif" font-size="14.5" font-weight="normal" text-anchor="end" fill="#111" textLength="20.5" lengthAdjust="spacingAndGlyphs" >150</text>
<text x="304.6" y="394.8" font-family="'Liberation Serif', serif" font-size="14.5" font-weight="normal" text-anchor="end" fill="#111" textLength="20.5" lengthAdjust="spacingAndGlyphs" >100</text>
<text x="304.6" y="435.9" font-family="'Liberation Serif', serif" font-size="14.5" font-weight="normal" text-anchor="end" fill="#111" textLength="15.9" lengthAdjust="spacingAndGlyphs" >50</text>
<text x="298.8" y="475.4" font-family="'Liberation Serif', serif" font-size="14.5" font-weight="normal" text-anchor="end" fill="#111" textLength="6.2" lengthAdjust="spacingAndGlyphs" >0</text>
<text transform="translate(267.8,368) rotate(-90)" x="0" y="0" font-family="'Liberation Serif', serif" font-size="14.5" text-anchor="middle" fill="#222" textLength="41.5" lengthAdjust="spacingAndGlyphs"># Cells</text>
<text x="300.5" y="489" font-family="'Liberation Serif', serif" font-size="14.5" font-weight="normal" text-anchor="start" fill="#111" textLength="17.5" lengthAdjust="spacingAndGlyphs" >0.1</text>
<text x="352.8" y="489" font-family="'Liberation Serif', serif" font-size="14.5" font-weight="normal" text-anchor="start" fill="#111" textLength="4.5" lengthAdjust="spacingAndGlyphs" >1</text>
<text x="397.8" y="489" font-family="'Liberation Serif', serif" font-size="14.5" font-weight="normal" text-anchor="start" fill="#111" textLength="13.4" lengthAdjust="spacingAndGlyphs" >10</text>
<text x="443.7" y="489" font-family="'Liberation Serif', serif" font-size="14.5" font-weight="normal" text-anchor="start" fill="#111" textLength="21.3" lengthAdjust="spacingAndGlyphs" >100</text>
<text x="490" y="489" font-family="'Liberation Serif', serif" font-size="14.5" font-weight="normal" text-anchor="start" fill="#111" textLength="27.5" lengthAdjust="spacingAndGlyphs" >1000</text>
<text x="411" y="508.7" font-family="'Liberation Serif', serif" font-size="14.5" font-weight="normal" text-anchor="start" fill="#111" textLength="31.5" lengthAdjust="spacingAndGlyphs" >FITC</text>
<text x="407.8" y="293.6" font-family="'Liberation Sans', sans-serif" font-size="31.5" font-weight="bold" text-anchor="start" fill="#000" textLength="68.0" lengthAdjust="spacingAndGlyphs" >Mac-</text>
<path d="M483.6,271.9 L488.3,271.9 L488.3,293.6 L483.6,293.6 L483.6,279.1 Q482.1,280.0 478.8,280.0 L478.8,276.2 Q483.1,275.8 483.6,271.9 Z" fill="#000"/>
<text x="433.7" y="324.6" font-family="'Liberation Sans', sans-serif" font-size="23.3" font-weight="normal" text-anchor="start" fill="#111" textLength="33.6" lengthAdjust="spacingAndGlyphs" >7%</text>
</g>
</svg>
</body></html>
